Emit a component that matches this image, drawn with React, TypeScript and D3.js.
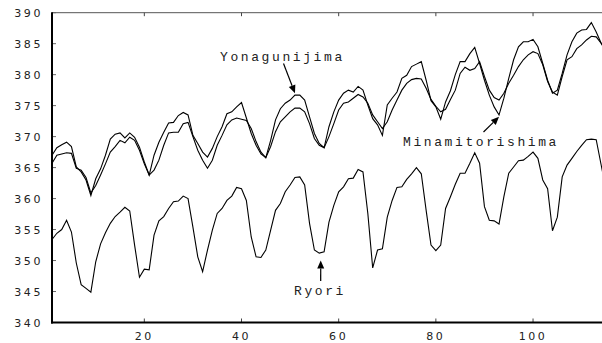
import React from "react";
import * as d3 from "d3";

const ryori = [
  353.4, 354.4, 355.0, 356.5, 354.6, 349.6, 346.1, 345.5, 344.9, 349.8,
  352.7, 354.5, 356.0, 357.1, 357.8, 358.6, 358.0, 352.5, 347.3, 348.6,
  348.5, 354.1, 356.4, 357.1, 358.4, 359.5, 359.6, 360.4, 360.0, 355.4,
  350.6, 348.2, 351.7, 354.9, 357.6, 358.4, 359.7, 360.4, 361.8, 361.6,
  359.7, 353.8, 350.6, 350.5, 351.7, 354.9, 358.1, 359.2, 361.1, 362.2,
  363.4, 363.5, 362.2, 356.0, 351.7, 351.2, 351.4, 356.2, 358.9, 361.1,
  361.9, 363.2, 363.3, 364.7, 364.3, 357.6, 348.8, 351.7, 351.9, 357.0,
  359.7, 361.8, 361.9, 363.1, 364.0, 365.0, 364.0, 358.1, 352.5, 351.6,
  352.5, 358.4, 360.3, 362.3, 364.1, 364.1, 365.7, 367.4, 365.7, 358.7,
  356.5, 356.4, 355.9, 360.3, 364.1, 365.1, 366.1, 366.2, 366.8, 367.5,
  366.5, 363.0, 361.6, 354.8, 357.0, 363.5, 365.4, 366.5, 367.6, 368.6,
  369.5, 369.6, 369.5, 365.5, 361.5,
];

const yonagunijima = [
  367.0, 368.2, 368.7, 369.1, 368.4, 365.1, 364.3, 363.0, 360.5, 363.2,
  364.8, 367.0, 369.6, 370.4, 370.6, 369.8, 370.6, 369.9, 368.3, 365.9,
  363.8, 367.0, 369.1, 370.7, 372.2, 372.3, 373.4, 373.9, 373.5, 370.2,
  368.9, 367.5, 366.7, 368.1, 370.0, 371.6, 373.7, 374.0, 374.8, 375.5,
  373.0, 370.5, 368.6, 367.2, 366.6, 369.4, 372.7, 374.5, 375.4, 375.9,
  376.7, 376.7, 375.9, 373.2, 370.5, 368.9, 368.2, 371.6, 374.0, 375.9,
  377.0, 377.5, 377.2, 378.1, 377.5, 375.1, 372.9, 371.9, 370.2, 375.1,
  376.2, 377.2, 379.4, 379.9, 381.3, 381.7, 382.1, 379.1, 375.8, 374.8,
  372.8, 375.6, 377.4, 380.0, 382.1, 382.1, 383.4, 384.4, 381.8, 379.1,
  376.7, 374.8, 373.5, 376.2, 379.4, 382.4, 384.5, 385.3, 385.3, 385.7,
  384.5, 381.8, 379.1, 377.0, 377.5, 380.2, 383.2, 385.3, 386.7, 387.2,
  387.3, 388.4, 386.9, 385.1, 383.9,
];

const minamitorishima = [
  365.7, 367.0, 367.2, 367.4, 367.3, 364.9, 364.6, 363.4, 360.9, 362.1,
  363.8, 365.6, 367.5, 368.4, 369.4, 369.0, 369.9, 369.4, 367.8, 365.6,
  363.8, 364.6, 366.2, 368.6, 370.6, 370.7, 370.7, 372.1, 372.3, 370.0,
  367.8, 366.2, 364.9, 366.2, 368.6, 370.2, 371.9, 372.7, 373.0, 372.8,
  372.6, 371.3, 369.2, 367.5, 366.6, 368.4, 370.8, 372.4, 373.2, 374.0,
  374.6, 374.6, 374.0, 372.1, 369.7, 368.6, 368.2, 370.0, 372.1, 374.3,
  375.4, 375.6, 376.2, 376.8, 376.4, 375.4, 373.5, 372.4, 371.3, 372.4,
  374.3, 375.9, 377.5, 378.6, 379.2, 379.4, 379.3, 377.8, 376.0, 374.9,
  374.0, 374.4, 376.0, 377.5, 380.2, 381.2, 380.7, 381.0, 382.1, 379.7,
  377.5, 376.3, 375.9, 377.0, 378.6, 379.9, 381.3, 382.4, 383.2, 383.7,
  383.4, 381.6, 378.9, 377.2, 376.7, 379.7, 382.4, 382.9, 384.2, 384.8,
  385.6, 386.2, 386.1, 385.1, 383.7,
];

const xTicks = [20, 40, 60, 80, 100];
const yTicks = [340, 345, 350, 355, 360, 365, 370, 375, 380, 385, 390];

const annotations = [
  { label: "Yonagunijima", tx: 220, ty: 61, ax: 283.5, ay: 63.5, px: 51, py: 377.0 },
  { label: "Ryori", tx: 294, ty: 295, ax: 320.7, ay: 281, px: 56.3, py: 350.0 },
  { label: "Minamitorishima", tx: 403, ty: 146, ax: 483.5, ay: 132, px: 93.0, py: 373.2 },
];

const W = 602;
const H = 343;
const L = 52;
const T = 12.7;
const B = 322.5;

export default function App() {
  const x = d3.scaleLinear().domain([1, 115]).range([L, L + 114 * 4.859]);
  const y = d3.scaleLinear().domain([340, 390]).range([B, T]);
  const line = d3
    .line<number>()
    .x((_, i) => x(i + 1))
    .y((d) => y(d));

  const series = [ryori, yonagunijima, minamitorishima];
  const numFont = "'DejaVu Sans', sans-serif";
  const monoFont = "'Liberation Mono', 'DejaVu Sans Mono', monospace";

  return (
    <svg
      width={W}
      height={H}
      style={{ position: "absolute", left: 0, top: 0, background: "#fff" }}
    >
      <rect x={0} y={0} width={W} height={H} fill="#fff" />
      <line x1={L} x2={W} y1={T} y2={T} stroke="#555" strokeWidth={1} />
      {xTicks.map((t) => (
        <g key={"xt" + t}>
          <line x1={x(t)} x2={x(t)} y1={T} y2={T + 3.5} stroke="#444" strokeWidth={1} />
          <line x1={x(t)} x2={x(t)} y1={B} y2={B - 4} stroke="#444" strokeWidth={1} />
          <text
            x={x(t)}
            y={340}
            textAnchor="middle"
            fontFamily={numFont}
            fontSize={11}
            letterSpacing={2.6}
            fill="#222"
          >
            {t}
          </text>
        </g>
      ))}
      {yTicks.map((t) => (
        <g key={"yt" + t}>
          <line x1={L} x2={L + 4} y1={y(t)} y2={y(t)} stroke="#666" strokeWidth={1} />
          <text
            x={43}
            y={y(t) + 4.5}
            textAnchor="end"
            fontFamily={numFont}
            fontSize={11}
            letterSpacing={2.6}
            fill="#222"
          >
            {t}
          </text>
        </g>
      ))}
      {series.map((s, k) => (
        <path key={k} d={line(s) || ""} fill="none" stroke="#000" strokeWidth={1.1} />
      ))}
      <line x1={L} x2={L} y1={T - 0.5} y2={B + 1} stroke="#000" strokeWidth={2} />
      <line x1={L - 1} x2={W} y1={B} y2={B} stroke="#000" strokeWidth={2} />
      {annotations.map((a) => {
        const tipX = x(a.px);
        const tipY = y(a.py);
        const ang = Math.atan2(tipY - a.ay, tipX - a.ax);
        const len = 8;
        const wid = 3.5;
        const bx = tipX - len * Math.cos(ang);
        const by = tipY - len * Math.sin(ang);
        const p1x = bx + wid * Math.sin(ang);
        const p1y = by - wid * Math.cos(ang);
        const p2x = bx - wid * Math.sin(ang);
        const p2y = by + wid * Math.cos(ang);
        return (
          <g key={a.label}>
            <text
              x={a.tx}
              y={a.ty}
              fontFamily={monoFont}
              fontSize={13}
              letterSpacing={2.6}
              fill="#222"
            >
              {a.label}
            </text>
            <line x1={a.ax} y1={a.ay} x2={bx} y2={by} stroke="#000" strokeWidth={1.2} />
            <polygon
              points={`${tipX},${tipY} ${p1x},${p1y} ${p2x},${p2y}`}
              fill="#000"
            />
          </g>
        );
      })}
    </svg>
  );
}
